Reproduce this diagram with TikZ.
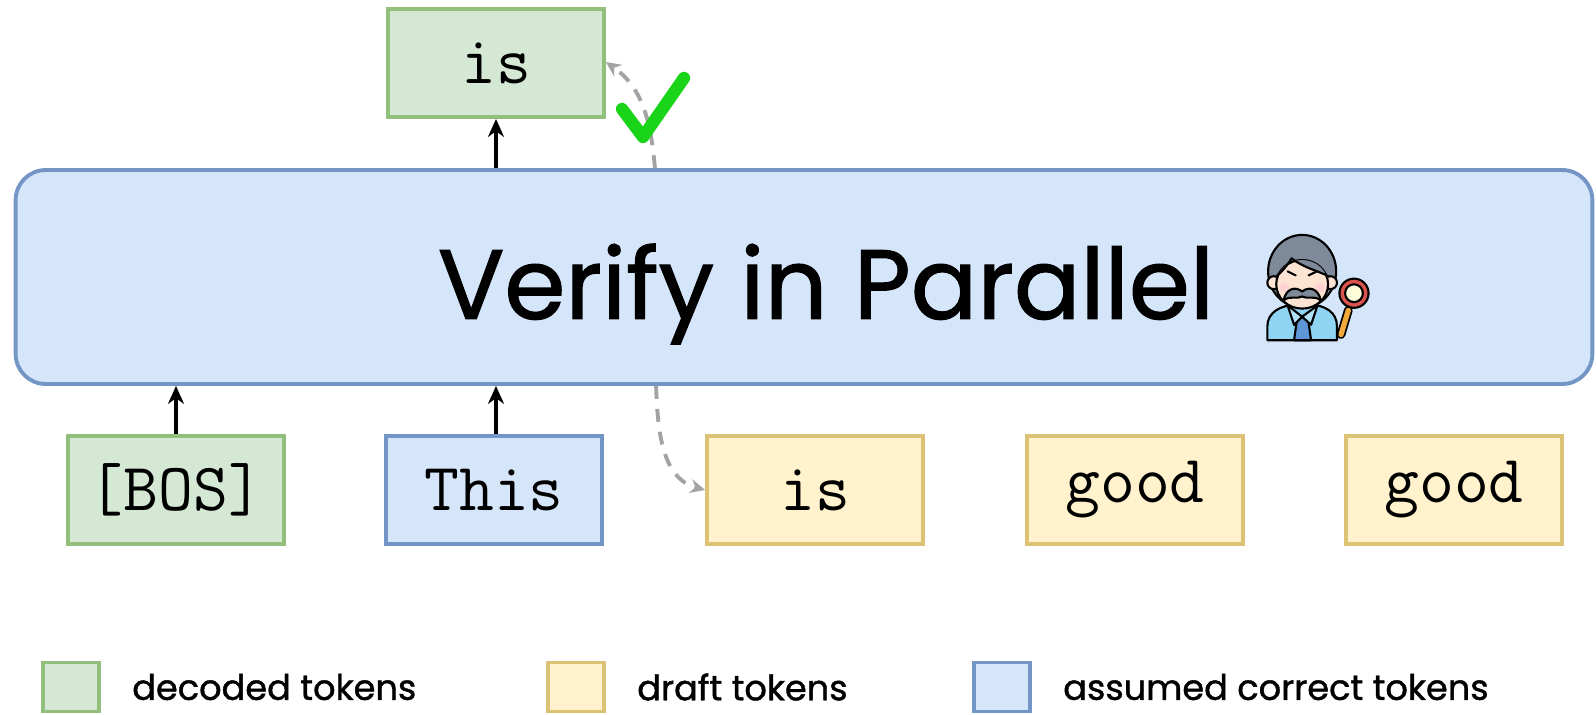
\documentclass[tikz,border=0pt]{standalone}
\usepackage{fontspec}
\usepackage{tikz}
\usetikzlibrary{positioning,arrows.meta,shapes}
\newfontfamily\handfont[FakeBold=1.2]{Poppins}
\definecolor{decfill}{HTML}{D5E8D4}
\definecolor{decline}{HTML}{93BF7C}
\definecolor{draftfill}{HTML}{FFF2CC}
\definecolor{draftline}{HTML}{DCC274}
\definecolor{okfill}{HTML}{D6E6FA}
\definecolor{okline}{HTML}{7396C6}
\definecolor{dashgray}{HTML}{A3A3A3}
\definecolor{tick}{HTML}{19D419}
\definecolor{hair}{HTML}{7E8A99}
\definecolor{skin}{HTML}{FCE3D2}
\definecolor{shirt}{HTML}{8FD4F2}
\definecolor{tie}{HTML}{5E96D8}
\definecolor{lens}{HTML}{D9544C}
\definecolor{handle}{HTML}{F2A93B}
\def\keyentry#1#2#3#4{\node[keybox,#1] (#2) at (#3) {}; \node[keytext,right=0.62cm of #2] {#4}}
\tikzstyle{tok}=[draw,line width=2.2pt,minimum width=4.32cm,minimum height=2.16cm,font=\ttfamily\fontsize{38.5}{38.5}\selectfont]
\tikzstyle{decoded}=[fill=decfill,draw=decline]
\tikzstyle{draft}=[fill=draftfill,draw=draftline]
\tikzstyle{assumed}=[fill=okfill,draw=okline]
\tikzstyle{verify}=[assumed,draw,line width=2.2pt,rounded corners=0.6cm,minimum width=31.54cm,minimum height=4.28cm]
\tikzstyle{title}=[font=\handfont\fontsize{56}{56}\selectfont]
\tikzstyle{keybox}=[draw,line width=2.2pt,minimum width=1.12cm,minimum height=0.98cm]
\tikzstyle{keytext}=[inner sep=0pt,font=\handfont\fontsize{20}{20}\selectfont]
\tikzstyle{up}=[-{Stealth[length=0.36cm,width=0.32cm]},line width=2.2pt]
\tikzstyle{hop}=[-{Stealth[length=0.3cm,width=0.28cm,inset=0.1cm]},line width=2.2pt,dashgray,dash pattern=on 0.26cm off 0.2cm]
\tikzstyle{ink}=[line width=1.2pt,line join=round]

\begin{document}
\begin{tikzpicture}[x=0.02cm,y=-0.02cm]
    \useasboundingbox (0,0) rectangle (1596,714);
    \node[verify] (big) at (804,277) {};
    \node[title] (title) at (826,294) {Verify in Parallel};
    \node[tok,decoded] (bos) at (176,490) {[BOS]};
    \node[tok,assumed] (this) at (494,490) {This};
    \node[tok,draft] (is) at (815,490) {is};
    \node[tok,draft] (good1) at (1135,490) {good};
    \node[tok,draft] (good2) at (1454,490) {good};
    \node[tok,decoded] (next) at (496,63) {is};
    \draw[up] (bos.north) -- (bos.north |- big.south);
    \draw[up] (this.north -| next.south) -- (big.south -| next.south);
    \draw[up] (big.north -| next.south) -- (next.south);
    \draw[hop] ([xshift=-0.98cm]big.south -| is.west) to[out=-88,in=165] (is.west);
    \draw[hop] ([xshift=0.98cm]big.north -| next.east) to[out=95,in=-35] ([yshift=0.02cm]next.east);
    % tick
    \draw[tick,line width=7pt,line cap=round,line join=round] (622,109) -- (643,137) -- (684,78);
    % inspector
    \begin{scope}[shift={(1371,341)},scale=0.81,shift={(-1373,-342)}]
    \draw[ink,fill=shirt] (1245,341) -- (1245,324) .. controls (1245,306) and (1262,298) .. (1280,297)
        -- (1298,297) .. controls (1316,298) and (1331,306) .. (1331,324) -- (1331,341) -- cycle;
    \draw[ink,fill=tie] (1282,313) -- (1295,313) -- (1299,341) -- (1278,341) -- cycle;
    \draw[ink,fill=shirt!70!white] (1270,298) -- (1288,312) -- (1278,322) -- cycle;
    \draw[ink,fill=shirt!70!white] (1307,298) -- (1288,312) -- (1299,322) -- cycle;
    \draw[ink,fill=hair] (1288,256) ellipse (42 and 45);
    \draw[ink,fill=skin] (1253,270) circle (8);
    \draw[ink,fill=skin] (1323,270) circle (8);
    \draw[ink,fill=skin] (1288,272) ellipse (32 and 30);
    \begin{scope}
        \clip (1288,272) ellipse (32 and 30);
        \fill[hair] (1250,230) -- (1250,262) .. controls (1262,258) and (1270,248) .. (1275,240)
            .. controls (1290,252) and (1310,256) .. (1326,262) -- (1326,230) -- cycle;
    \end{scope}
    \draw[ink] (1256,262) .. controls (1262,258) and (1270,248) .. (1275,240)
        .. controls (1290,252) and (1310,256) .. (1320,262);
    \fill[pink!70] (1266,276) circle (6);
    \fill[pink!70] (1310,276) circle (6);
    \draw[ink,line cap=round] (1270,256) -- (1280,261);
    \draw[ink,line cap=round] (1306,256) -- (1296,261);
    \draw[ink,fill=hair] (1288,281) .. controls (1280,274) and (1268,277) .. (1265,292)
        .. controls (1273,285) and (1282,291) .. (1288,287) .. controls (1294,291) and (1303,285) .. (1311,292)
        .. controls (1308,277) and (1296,274) .. cycle;
    \draw[line width=5pt,line cap=round] (1345,304) -- (1336,334);
    \draw[line width=3pt,handle,line cap=round] (1345,304) -- (1336,334);
    \draw[ink,fill=lens] (1352,283) circle (18);
    \draw[ink,fill=yellow!15] (1352,283) circle (11);
    \end{scope}
    % key
    \keyentry{decoded}{keydec}{71,687}{decoded tokens};
    \keyentry{draft}{keydraft}{576,687}{draft tokens};
    \keyentry{assumed}{keyok}{1002,687}{assumed correct tokens};
\end{tikzpicture}
\end{document}
